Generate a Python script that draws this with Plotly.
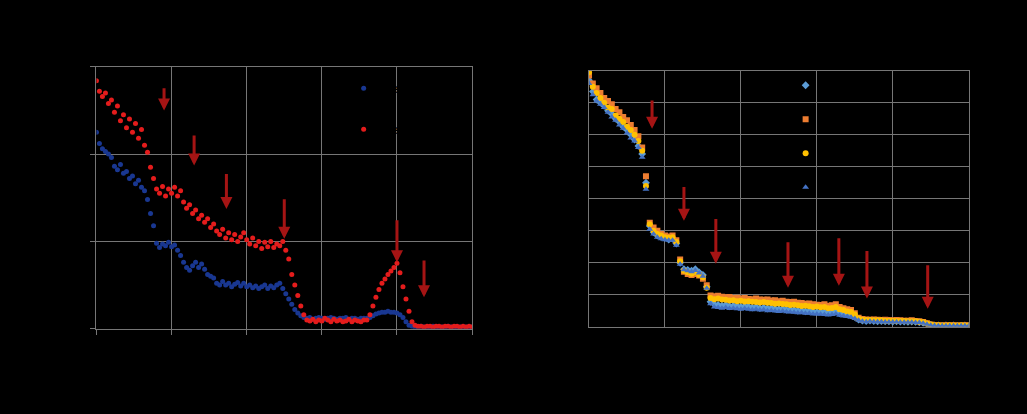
import numpy as np
import plotly.graph_objects as go

# ---------------- data: left chart ----------------
left_x = np.round(np.arange(126) * 0.04, 2)
left_blue = [2.25, 2.12, 2.06, 2.03, 2.00, 1.96, 1.86, 1.82, 1.88, 1.78,
             1.80, 1.72, 1.75, 1.66, 1.70, 1.62, 1.58, 1.48, 1.32, 1.18,
             0.98, 0.93, 0.97, 0.95, 0.99, 0.94, 0.96, 0.90, 0.84, 0.76,
             0.70, 0.67, 0.72, 0.76, 0.70, 0.74, 0.68, 0.62, 0.60, 0.58,
             0.52, 0.50, 0.54, 0.50, 0.52, 0.48, 0.51, 0.53, 0.49, 0.52,
             0.48, 0.50, 0.47, 0.49, 0.46, 0.48, 0.50, 0.46, 0.49, 0.47,
             0.50, 0.52, 0.46, 0.40, 0.34, 0.28, 0.22, 0.18, 0.15, 0.13,
             0.12, 0.13, 0.11, 0.12, 0.13, 0.12, 0.11, 0.12, 0.13, 0.12,
             0.11, 0.12, 0.12, 0.13, 0.11, 0.12, 0.12, 0.11, 0.12, 0.12,
             0.12, 0.13, 0.15, 0.17, 0.18, 0.19, 0.19, 0.20, 0.19, 0.19,
             0.18, 0.16, 0.13, 0.08, 0.04, 0.03, 0.02, 0.02, 0.03, 0.02,
             0.02, 0.02, 0.03, 0.02, 0.02, 0.02, 0.02, 0.03, 0.02, 0.02,
             0.02, 0.02, 0.02, 0.02, 0.02, 0.02]
left_red = [2.84, 2.72, 2.66, 2.70, 2.58, 2.62, 2.48, 2.55, 2.38, 2.45,
            2.30, 2.40, 2.25, 2.35, 2.18, 2.28, 2.10, 2.02, 1.85, 1.72,
            1.60, 1.55, 1.63, 1.52, 1.60, 1.55, 1.62, 1.52, 1.58, 1.45,
            1.38, 1.42, 1.32, 1.36, 1.26, 1.30, 1.22, 1.26, 1.16, 1.20,
            1.12, 1.08, 1.14, 1.04, 1.10, 1.02, 1.08, 1.00, 1.05, 1.10,
            1.02, 0.97, 1.04, 0.95, 1.00, 0.92, 0.99, 0.94, 1.00, 0.93,
            0.97, 0.95, 1.00, 0.90, 0.80, 0.62, 0.50, 0.38, 0.26, 0.16,
            0.10, 0.09, 0.11, 0.08, 0.10, 0.09, 0.12, 0.10, 0.08, 0.11,
            0.09, 0.10, 0.08, 0.09, 0.11, 0.08, 0.10, 0.09, 0.08, 0.10,
            0.10, 0.16, 0.26, 0.36, 0.45, 0.52, 0.57, 0.62, 0.66, 0.70,
            0.75, 0.64, 0.48, 0.34, 0.20, 0.08, 0.04, 0.03, 0.03, 0.02,
            0.03, 0.03, 0.02, 0.03, 0.03, 0.02, 0.03, 0.03, 0.02, 0.03,
            0.03, 0.02, 0.03, 0.02, 0.03, 0.02]
left_names = ["Series A", "Series B"]
left_arrow_x = [0.90, 1.30, 1.73, 2.50, 4.00, 4.36]
left_arrow_tip = [2.50, 1.87, 1.37, 1.03, 0.76, 0.36]
left_arrow_tail = [2.77, 2.23, 1.79, 1.50, 1.26, 0.80]

# ---------------- data: right chart ----------------
right_x = np.round(np.arange(101) * 0.05, 2)
right_s1 = [7.70, 7.35, 7.10, 7.00, 6.90, 6.75, 6.65, 6.50, 6.40, 6.25,
            6.15, 6.00, 5.85, 5.65, 5.40, 4.50, 3.15, 2.95, 2.85, 2.80,
            2.78, 2.72, 2.75, 2.60, 2.00, 1.80, 1.78, 1.75, 1.80, 1.70,
            1.62, 1.25, 0.78, 0.70, 0.68, 0.66, 0.68, 0.64, 0.66, 0.65,
            0.62, 0.64, 0.63, 0.60, 0.62, 0.58, 0.60, 0.57, 0.58, 0.56,
            0.55, 0.56, 0.53, 0.54, 0.52, 0.50, 0.51, 0.48, 0.49, 0.47,
            0.46, 0.47, 0.45, 0.44, 0.45, 0.48, 0.42, 0.40, 0.38, 0.36,
            0.30, 0.22, 0.19, 0.18, 0.19, 0.18, 0.17, 0.18, 0.17, 0.17,
            0.16, 0.17, 0.16, 0.16, 0.15, 0.16, 0.15, 0.14, 0.12, 0.09,
            0.06, 0.04, 0.04, 0.03, 0.04, 0.03, 0.04, 0.03, 0.03, 0.04,
            0.03]
right_s2 = [7.85, 7.60, 7.45, 7.30, 7.15, 7.05, 6.95, 6.80, 6.70, 6.55,
            6.45, 6.30, 6.15, 5.95, 5.60, 4.70, 3.25, 3.10, 3.00, 2.90,
            2.85, 2.82, 2.85, 2.70, 2.10, 1.72, 1.65, 1.62, 1.65, 1.60,
            1.50, 1.30, 0.98, 0.95, 0.97, 0.94, 0.92, 0.93, 0.90, 0.91,
            0.88, 0.90, 0.87, 0.86, 0.88, 0.85, 0.84, 0.85, 0.82, 0.83,
            0.80, 0.81, 0.78, 0.77, 0.78, 0.75, 0.74, 0.72, 0.73, 0.70,
            0.69, 0.68, 0.70, 0.66, 0.67, 0.70, 0.62, 0.58, 0.55, 0.52,
            0.42, 0.28, 0.24, 0.23, 0.22, 0.23, 0.22, 0.21, 0.22, 0.21,
            0.20, 0.21, 0.20, 0.19, 0.19, 0.20, 0.18, 0.17, 0.15, 0.11,
            0.07, 0.05, 0.05, 0.04, 0.05, 0.04, 0.05, 0.04, 0.04, 0.05,
            0.04]
right_s3 = [7.95, 7.50, 7.30, 7.15, 7.00, 6.85, 6.80, 6.60, 6.50, 6.40,
            6.25, 6.15, 6.00, 5.80, 5.50, 4.40, 3.20, 3.00, 2.90, 2.85,
            2.80, 2.78, 2.80, 2.65, 2.05, 1.75, 1.70, 1.66, 1.70, 1.62,
            1.55, 1.22, 0.90, 0.86, 0.88, 0.85, 0.84, 0.82, 0.83, 0.80,
            0.81, 0.79, 0.80, 0.78, 0.77, 0.76, 0.77, 0.75, 0.74, 0.72,
            0.73, 0.71, 0.70, 0.68, 0.69, 0.67, 0.65, 0.66, 0.64, 0.62,
            0.63, 0.61, 0.62, 0.58, 0.59, 0.62, 0.55, 0.52, 0.48, 0.46,
            0.38, 0.26, 0.22, 0.21, 0.21, 0.20, 0.20, 0.20, 0.19, 0.19,
            0.19, 0.18, 0.18, 0.18, 0.17, 0.17, 0.17, 0.16, 0.14, 0.10,
            0.07, 0.05, 0.05, 0.04, 0.04, 0.05, 0.04, 0.04, 0.05, 0.04,
            0.04]
right_s4 = [7.60, 7.25, 7.05, 6.95, 6.85, 6.70, 6.55, 6.45, 6.30, 6.20,
            6.05, 5.90, 5.80, 5.60, 5.30, 4.30, 3.05, 2.90, 2.80, 2.75,
            2.72, 2.70, 2.70, 2.55, 1.95, 1.78, 1.75, 1.72, 1.76, 1.68,
            1.58, 1.20, 0.72, 0.62, 0.60, 0.58, 0.60, 0.57, 0.58, 0.56,
            0.55, 0.57, 0.55, 0.53, 0.55, 0.52, 0.53, 0.50, 0.51, 0.49,
            0.48, 0.49, 0.47, 0.46, 0.45, 0.44, 0.44, 0.42, 0.42, 0.40,
            0.40, 0.39, 0.38, 0.37, 0.38, 0.40, 0.36, 0.34, 0.32, 0.30,
            0.26, 0.20, 0.17, 0.16, 0.17, 0.16, 0.16, 0.16, 0.15, 0.15,
            0.15, 0.15, 0.14, 0.14, 0.14, 0.14, 0.13, 0.13, 0.11, 0.08,
            0.05, 0.04, 0.03, 0.03, 0.03, 0.03, 0.03, 0.03, 0.03, 0.03,
            0.03]
right_names = ["Series 1", "Series 2", "Series 3", "Series 4"]
right_arrow_x = [0.83, 1.25, 1.67, 2.62, 3.29, 3.66, 4.46]
right_arrow_tip = [6.19, 3.31, 1.97, 1.22, 1.28, 0.88, 0.56]
right_arrow_tail = [7.12, 4.41, 3.41, 2.69, 2.81, 2.41, 1.97]

# ---------------- styles ----------------
W, H = 1027, 414
GRID = "rgb(118,118,118)"
ARROW = "rgb(165,20,20)"
BLUE_L = "rgb(25,55,145)"
RED_L = "rgb(228,28,28)"
R_COLORS = ["rgb(91,155,213)", "rgb(237,125,49)", "rgb(255,192,0)", "rgb(68,114,196)"]
R_SYMBOLS = ["diamond", "square", "circle", "triangle-up"]


# layout pixel boxes (figure pixels)
def px_x(p):
    return (p - 1.5) / 0.994 / W


def px_y(p):
    return 1 - (p - 6.3) / 0.966 / H


fig = go.Figure()

for i, (ys, col) in enumerate([(left_blue, BLUE_L), (left_red, RED_L)]):
    fig.add_trace(go.Scatter(
        x=left_x, y=ys, mode="markers", name=left_names[i],
        marker=dict(color=col, size=5, line=dict(width=0)),
        xaxis="x", yaxis="y", legend="legend", legendgroup="L%d" % i))

for i, ys in enumerate([right_s1, right_s2, right_s3, right_s4]):
    fig.add_trace(go.Scatter(
        x=right_x, y=ys, mode="markers", name=right_names[i],
        marker=dict(color=R_COLORS[i], size=6, symbol=R_SYMBOLS[i], line=dict(width=0)),
        xaxis="x2", yaxis="y2", legend="legend2", legendgroup="R%d" % i))

ann = []
for ax_, ayref, xs, tips, tails in [("x", "y", left_arrow_x, left_arrow_tip, left_arrow_tail),
                                    ("x2", "y2", right_arrow_x, right_arrow_tip, right_arrow_tail)]:
    for x, t, tl in zip(xs, tips, tails):
        ann.append(dict(x=x, y=t, ax=x, ay=tl, xref=ax_, yref=ayref, axref=ax_, ayref=ayref,
                        text="", showarrow=True, arrowhead=2, arrowsize=0.8, arrowwidth=3,
                        arrowcolor=ARROW))

axis_common = dict(showgrid=True, gridcolor=GRID, gridwidth=1, zeroline=False,
                   showline=True, mirror=True, linecolor=GRID, linewidth=1,
                   tickfont=dict(color="black", size=12))

fig.update_layout(
    width=W, height=H, margin=dict(l=0, r=0, t=0, b=0),
    paper_bgcolor="black", plot_bgcolor="black",
    font=dict(family="Liberation Sans, Arial", color="black"),
    xaxis=dict(domain=[px_x(95), px_x(471)], range=[0, 5], dtick=1, anchor="y",
               ticks="outside", ticklen=5, tickcolor=GRID, **axis_common),
    yaxis=dict(domain=[px_y(328), px_y(66)], range=[0, 3], dtick=1, anchor="x",
               ticks="outside", ticklen=5, tickcolor=GRID, **axis_common),
    xaxis2=dict(domain=[px_x(588), px_x(968)], range=[0, 5], dtick=1, anchor="y2", **axis_common),
    yaxis2=dict(domain=[px_y(326), px_y(70)], range=[0, 8], dtick=1, anchor="x2", **axis_common),
    legend=dict(x=343 / W, y=1 - 69 / H, xanchor="left", yanchor="top",
                bgcolor="rgba(0,0,0,0)", font=dict(color="black", size=12),
                tracegroupgap=22),
    legend2=dict(x=788 / W, y=1 - 66 / H, xanchor="left", yanchor="top",
                 bgcolor="rgba(0,0,0,0)", font=dict(color="black", size=12),
                 tracegroupgap=15),
    annotations=ann,
)

page_css = ("document.documentElement.style.cssText='margin:0;padding:0;overflow:hidden;"
            "width:1100px;height:480px;"
            "background:linear-gradient(#000,#000) 0 0/100% 100% no-repeat,#fff;';"
            "document.body.style.cssText='margin:0;padding:0;overflow:hidden;font-size:0;"
            "line-height:0;background:transparent;';")

fig.write_html("out.html", config={"displayModeBar": False}, post_script=page_css)
